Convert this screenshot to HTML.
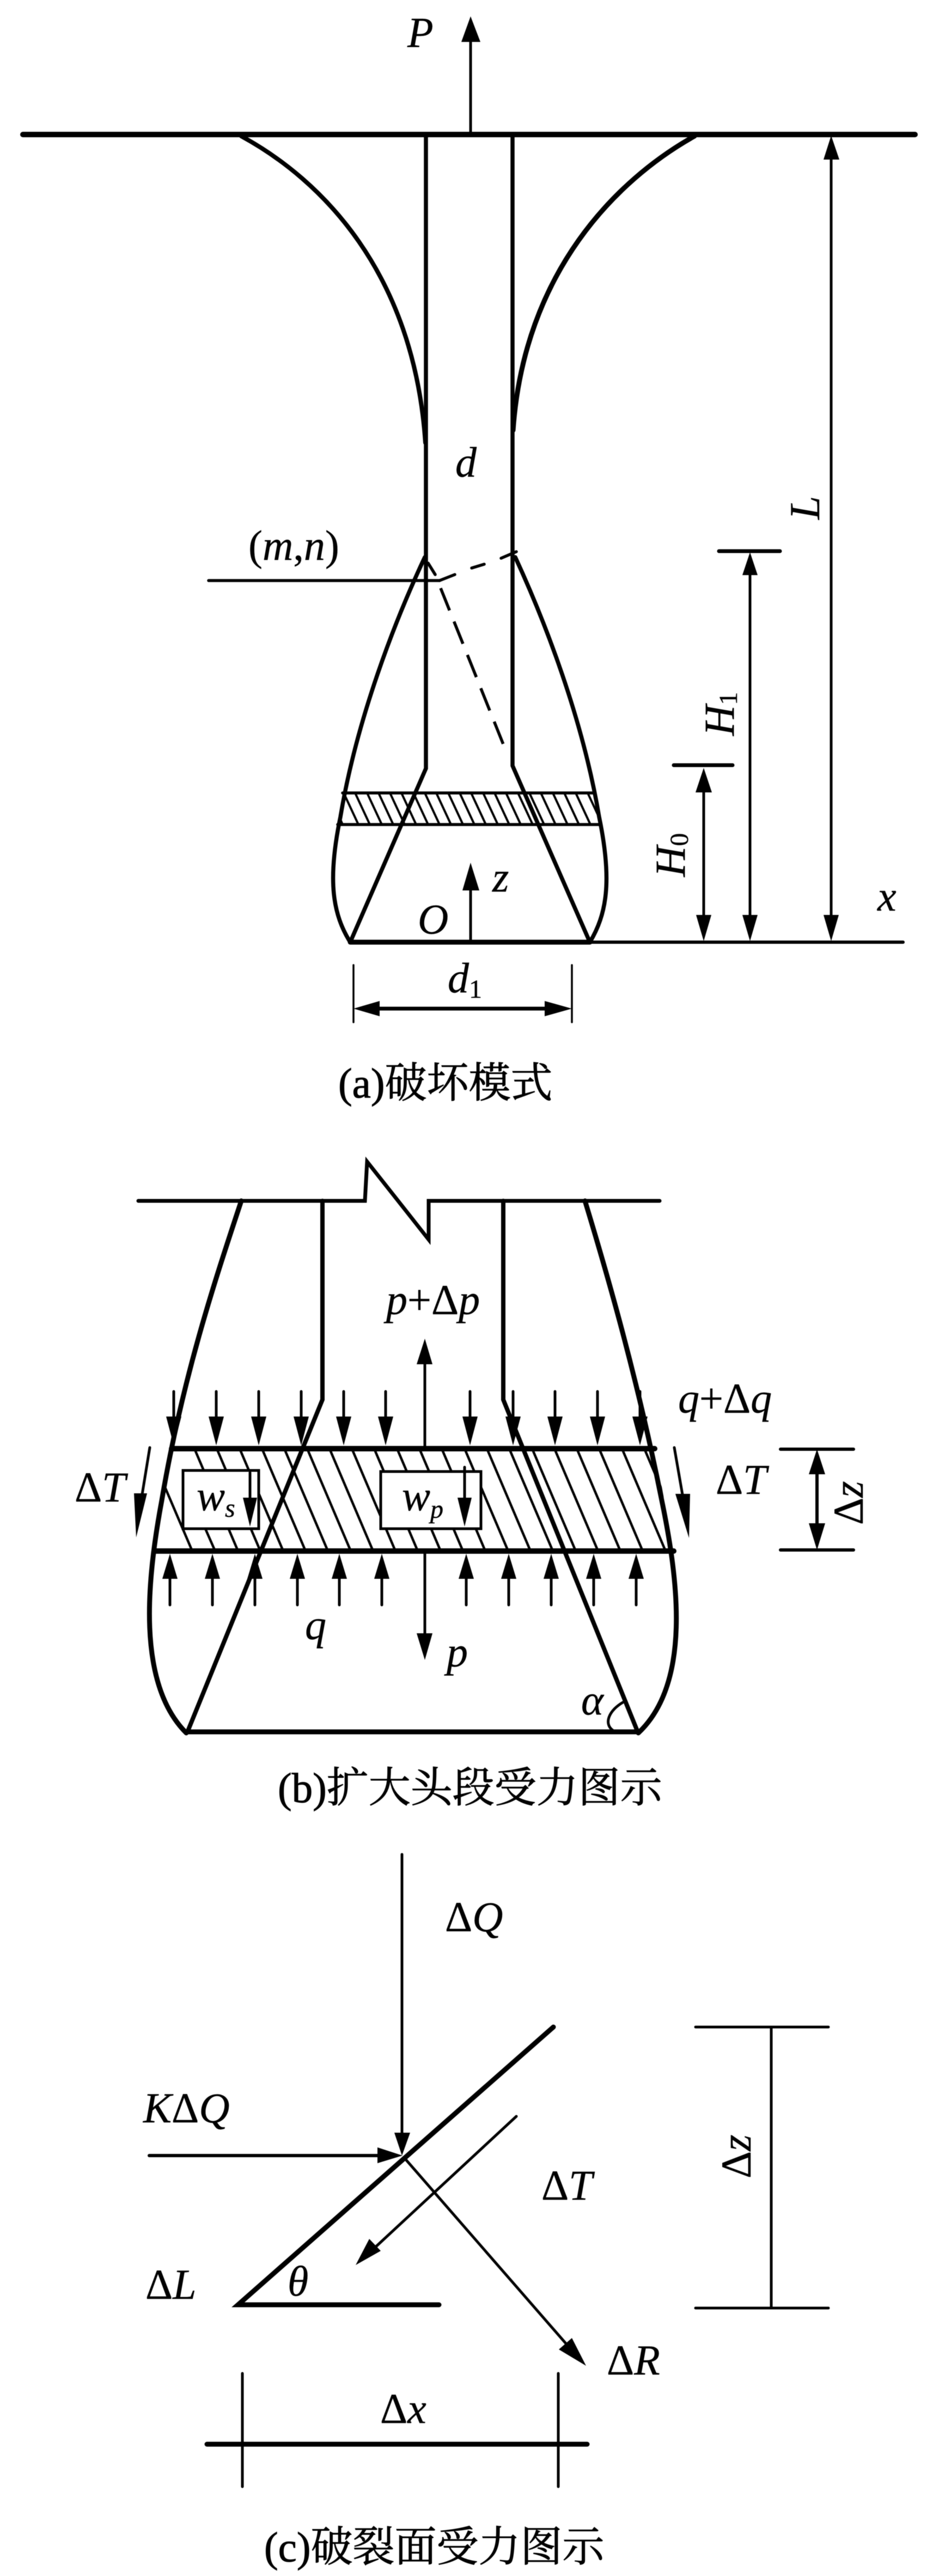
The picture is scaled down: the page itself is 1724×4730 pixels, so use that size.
<!DOCTYPE html>
<html>
<head>
<meta charset="utf-8">
<style>
html,body{margin:0;padding:0;background:#fff;}
svg{display:block;filter:blur(.5px);}
text{font-family:"Liberation Serif","Noto Serif CJK SC",serif;font-size:78px;fill:#000;stroke:#000;stroke-width:.4px;}
.i{font-style:italic;}
.n{font-style:normal;}
.c{font-size:77px;stroke:#000;stroke-width:1px;}
.s{font-size:48px;}
</style>
</head>
<body>
<svg xmlns="http://www.w3.org/2000/svg" width="1724" height="4730" viewBox="0 0 1724 4730">
<rect width="1724" height="4730" fill="#fff"/>
<defs>
<clipPath id="ca"><path d="M629 1456H1090L1103 1514H620Z"/></clipPath>
<clipPath id="cb"><path d="M315 2660H1202L1237 2848H283Z"/></clipPath>
</defs>

<!-- (a) -->
<g fill="none" stroke="#000" stroke-linecap="round">
<path d="M42 247H1680" stroke-width="10"/>
<path d="M864 247V70" stroke-width="5"/>
<path d="M782 247V1411L643 1730" stroke-width="7.5"/>
<path d="M941 247V1406L1083 1730" stroke-width="7.5"/>
<path d="M443 250C590 330 760 500 781 813" stroke-width="8"/>
<path d="M1275 250C1132 330 962 500 942 790" stroke-width="9"/>
<path d="M780 1023C725 1140 655 1320 625 1500C600 1620 612 1680 643 1730" stroke-width="7.5"/>
<path d="M946 1023C1000 1140 1070 1320 1100 1500C1125 1620 1113 1680 1083 1730" stroke-width="7.5"/>
<path d="M383 1066H807" stroke-width="5.5"/>
<path d="M807 1066L835 1055M866 1043L889 1036M920 1025L948 1013M786 1034L799 1055" stroke-width="5.5"/>
<path d="M809 1080L929 1379" stroke-width="5.5" stroke-dasharray="44 22" stroke-linecap="butt"/>
<path d="M629 1456H1090M620 1514H1103" stroke-width="5.5"/>
<g clip-path="url(#ca)"><path d="M631 1456l27 58M652 1456l27 58M674 1456l27 58M695 1456l27 58M716 1456l27 58M737 1456l27 58M759 1456l27 58M780 1456l27 58M801 1456l27 58M823 1456l27 58M844 1456l27 58M865 1456l27 58M887 1456l27 58M908 1456l27 58M929 1456l27 58M951 1456l27 58M972 1456l27 58M993 1456l27 58M1015 1456l27 58M1036 1456l27 58M1057 1456l27 58M1079 1456l27 58M612 1474l17 40" stroke-width="4"/></g>
<path d="M643 1730H1083" stroke-width="9"/>
<path d="M1083 1730H1658" stroke-width="6"/>
<path d="M864 1730V1620" stroke-width="5"/>
<path d="M1526 280V1700" stroke-width="5"/>
<path d="M1320 1012H1432" stroke-width="7"/>
<path d="M1377 1040V1690" stroke-width="5"/>
<path d="M1237 1405H1345" stroke-width="7"/>
<path d="M1292 1440V1690" stroke-width="5"/>
<path d="M649 1772V1877M1050 1772V1877" stroke-width="3.5"/>
<path d="M670 1852H1030" stroke-width="7"/>
</g>
<path d="M864 30l-17 47h35zM1526 249l-14 44h29zM1377 1014l-14 42h28zM1292 1410l-15 45h30zM864 1584l-15 51h31zM1292 1728l-14-48h28zM1377 1728l-14-48h28zM1526 1728l-14-48h28zM649 1852l48-14v28zM1050 1852l-50-14v28z"/>

<text class="i" x="748" y="86">P</text>
<text class="i" x="836" y="875">d</text>
<text x="456" y="1028"><tspan>(</tspan><tspan class="i">m</tspan><tspan>,</tspan><tspan class="i">n</tspan><tspan>)</tspan></text>
<text class="i" transform="rotate(-90 1504 954)" x="1504" y="954">L</text>
<text class="i" transform="rotate(-90 1347 1351)" x="1347" y="1351">H<tspan class="n s" dy="6">1</tspan></text>
<text class="i" transform="rotate(-90 1257 1610)" x="1257" y="1610">H<tspan class="n s" dy="6">0</tspan></text>
<text class="i" x="904" y="1637">z</text>
<text class="i" x="767" y="1714">O</text>
<text class="i" x="1611" y="1672">x</text>
<text class="i" x="822" y="1822">d<tspan class="n s" dy="10">1</tspan></text>
<text class="c" x="621" y="2015">(a)破坏模式</text>

<!-- (b) -->
<g fill="none" stroke="#000" stroke-linecap="round" stroke-linejoin="miter">
<path d="M254 2205H670L674 2133L787 2276V2205H1211" stroke-width="7"/>
<g clip-path="url(#cb)"><path d="M303 2731L353 2848M377 2807L395 2848M357 2660l80 188M398 2660l80 188M440 2660l80 188M481 2660l80 188M522 2660l80 188M564 2660l80 188M605 2660l80 188M646 2660l80 188M687 2660l80 188M729 2660l80 188M770 2660l80 188M811 2660l80 188M853 2660l80 188M894 2660l80 188M935 2660l80 188M977 2660l80 188M1018 2660l80 188M1059 2660l80 188M1100 2660l80 188M1142 2660l80 188M1183 2660l80 188" stroke-width="4.5"/></g>
<rect x="336" y="2700" width="139" height="107" fill="#fff" stroke-width="5"/>
<rect x="699" y="2702" width="184" height="105" fill="#fff" stroke-width="5"/>
<path d="M443 2205C395 2350 335 2530 297 2755C270 2900 250 3090 342 3182" stroke-width="9"/>
<path d="M1074 2205C1115 2340 1170 2530 1215 2755C1245 2900 1270 3090 1172 3182" stroke-width="9"/>
<path d="M592 2205V2570L345 3178" stroke-width="8"/>
<path d="M924 2205V2570L1170 3178" stroke-width="8"/>
<path d="M315 2660H1202M283 2848H1237" stroke-width="10"/>
<path d="M342 3180H1172" stroke-width="9"/>
<path d="M319 2555V2610M397 2555V2610M475 2555V2610M553 2555V2610M631 2555V2610M708 2555V2610M863 2555V2610M942 2555V2610M1019 2555V2610M1097 2555V2610M1175 2555V2610" stroke-width="5"/>
<path d="M312 2890V2947M390 2890V2947M468 2890V2947M546 2890V2947M623 2890V2947M701 2890V2947M856 2890V2947M934 2890V2947M1012 2890V2947M1090 2890V2947M1168 2890V2947" stroke-width="5"/>
<path d="M780 2660V2500M780 2848V3005" stroke-width="5"/>
<path d="M275 2658L260 2750M1238 2658L1254 2750" stroke-width="5"/>
<path d="M459 2704V2760M853 2694V2760" stroke-width="5"/>
<path d="M1433 2661H1567M1433 2846H1567" stroke-width="6"/>
<path d="M1500 2700V2800" stroke-width="6"/>
<path d="M1145 3125C1118 3140 1108 3165 1125 3177" stroke-width="5"/>
</g>
<path d="M319 2654l-14-53h28zM397 2654l-14-53h28zM475 2654l-14-53h28zM553 2654l-14-53h28zM631 2654l-14-53h28zM708 2654l-14-53h28zM863 2654l-14-53h28zM942 2654l-14-53h28zM1019 2654l-14-53h28zM1097 2654l-14-53h28zM1175 2654l-14-53h28z"/>
<path d="M312 2853l-14 46h28zM390 2853l-14 46h28zM468 2853l-14 46h28zM546 2853l-14 46h28zM623 2853l-14 46h28zM701 2853l-14 46h28zM856 2853l-14 46h28zM934 2853l-14 46h28zM1012 2853l-14 46h28zM1090 2853l-14 46h28zM1168 2853l-14 46h28z"/>
<path d="M780 2458l-15 47h29zM780 3048l-15-49h29zM250 2823L246 2742H270zM1265 2824L1240 2743H1267zM459 2803l-13-53h26zM853 2803l-13-53h26zM1500 2661l-15 46h30zM1500 2846l-15-49h30z"/>

<text class="i" x="709" y="2413">p<tspan class="n">+Δ</tspan>p</text>
<text class="i" x="1245" y="2594">q<tspan class="n">+Δ</tspan>q</text>
<text class="n" x="137" y="2757">Δ<tspan class="i">T</tspan></text>
<text class="n" x="1314" y="2743">Δ<tspan class="i">T</tspan></text>
<text class="n" transform="rotate(-90 1584 2800)" x="1584" y="2800">Δ<tspan class="i">z</tspan></text>
<text class="i" x="361" y="2773">w<tspan class="s" dy="12">s</tspan></text>
<text class="i" x="738" y="2773">w<tspan class="s" dy="14">p</tspan></text>
<text class="i" x="560" y="3010">q</text>
<text class="i" x="820" y="3060">p</text>
<text class="i" x="1067" y="3148">α</text>
<text class="c" x="510" y="3309">(b)扩大头段受力图示</text>

<!-- (c) -->
<g fill="none" stroke="#000" stroke-linecap="round">
<path d="M738 3405V3925" stroke-width="5"/>
<path d="M1016 3722L437 4232H806" stroke-width="9"/>
<path d="M274 3958H700" stroke-width="6"/>
<path d="M743 3963L1045 4310" stroke-width="5"/>
<path d="M948 3886L685 4130" stroke-width="5"/>
<path d="M1277 3722H1521M1277 4238H1521" stroke-width="5"/>
<path d="M1416 3722V4238" stroke-width="5"/>
<path d="M380 4488H1078" stroke-width="9"/>
<path d="M445 4358V4566M1025 4358V4566" stroke-width="5"/>
</g>
<path d="M738 3958l-14-42h29zM739 3958l-46-15v29zM1076 4344l-50-30l24-21zM653 4159l25-48l21 22z"/>

<text class="n" x="817" y="3546">Δ<tspan class="i">Q</tspan></text>
<text class="i" x="263" y="3897">K<tspan class="n">Δ</tspan>Q</text>
<text class="n" x="994" y="4039">Δ<tspan class="i">T</tspan></text>
<text class="n" x="267" y="4221">Δ<tspan class="i">L</tspan></text>
<text class="i" x="528" y="4215">θ</text>
<text class="n" x="1114" y="4360">Δ<tspan class="i">R</tspan></text>
<text class="n" x="698" y="4449">Δ<tspan class="i">x</tspan></text>
<text class="n" transform="rotate(-90 1378 4000)" x="1378" y="4000">Δ<tspan class="i">z</tspan></text>
<text class="c" x="485" y="4703">(c)破裂面受力图示</text>
</svg>
</body>
</html>
